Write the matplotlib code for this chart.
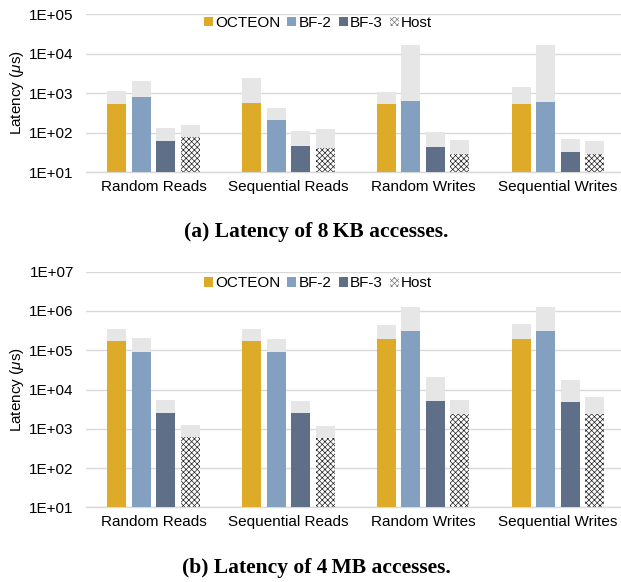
import numpy as np
import matplotlib
matplotlib.use("Agg")
import matplotlib.pyplot as plt
from matplotlib.ticker import FixedLocator, FuncFormatter, NullLocator
from matplotlib.patches import Patch

plt.rcParams['font.family'] = ['Liberation Sans', 'DejaVu Sans']
plt.rcParams['mathtext.fontset'] = 'custom'
plt.rcParams['mathtext.it'] = 'Liberation Sans:italic'
plt.rcParams['mathtext.rm'] = 'Liberation Sans'
plt.rcParams['hatch.linewidth'] = 0.5

categories = ["Random Reads", "Sequential Reads", "Random Writes", "Sequential Writes"]
series = ["OCTEON", "BF-2", "BF-3", "Host"]

# Panel (a): 8 KB accesses (average, max)
octeon_avg_a = [543, 565, 532, 543]
bf2_avg_a = [785, 214, 632, 610]
bf3_avg_a = [63, 47, 44.5, 33.3]
host_avg_a = [76.5, 41, 29, 28.5]
octeon_max_a = [1135, 2370, 1070, 1400]
bf2_max_a = [2070, 430, 16500, 16500]
bf3_max_a = [129, 111, 102, 69.5]
host_max_a = [157, 124, 65.6, 60.7]

# Panel (b): 4 MB accesses (average, max)
octeon_avg_b = [176000, 176000, 190000, 190000]
bf2_avg_b = [88500, 88500, 303000, 309000]
bf3_avg_b = [2530, 2530, 5100, 4820]
host_avg_b = [607, 583, 2380, 2380]
octeon_max_b = [355000, 355000, 449000, 467000]
bf2_max_b = [205000, 197000, 1240000, 1290000]
bf3_max_b = [5310, 5200, 21300, 17500]
host_max_b = [1250, 1200, 5520, 6450]

colors = ["#DDAB27", "#83A0C1", "#5F6F87", "white"]
gray = "#E6E6E6"
grid_c = "#D9D9D9"
FS = 11

W, H = 621, 582
fig = plt.figure(figsize=(W / 100, H / 100), dpi=100)

def px_axes(left, right, top, bottom):
    return fig.add_axes([left / W, 1 - bottom / H, (right - left) / W, (bottom - top) / H])

def draw(ax, avgs, maxs, ymax):
    x = np.arange(len(categories))
    pitch, width = 0.182, 0.141
    for i, (a, m) in enumerate(zip(avgs, maxs)):
        a = np.array(a, float); m = np.array(m, float)
        xs = x + (i - 1.5) * pitch
        if series[i] == "Host":
            ax.bar(xs, a, width, color="white", edgecolor="#222222", linewidth=0,
                   hatch="xxxxxx", zorder=3)
        else:
            ax.bar(xs, a, width, color=colors[i], linewidth=0, zorder=3)
        ax.bar(xs, m - a, width, bottom=a, color=gray, linewidth=0, zorder=3)
    ax.set_yscale("log")
    ax.set_ylim(10, ymax)
    ax.set_xlim(-0.5, 3.5)
    decades = [10 ** k for k in range(1, int(round(np.log10(ymax))) + 1)]
    ax.yaxis.set_major_locator(FixedLocator(decades))
    ax.yaxis.set_minor_locator(NullLocator())
    ax.yaxis.set_major_formatter(FuncFormatter(lambda v, p: "1E+%02d" % int(round(np.log10(v)))))
    ax.set_xticks(x)
    ax.set_xticklabels(categories)
    ax.tick_params(axis="both", length=0, labelsize=FS, colors="black")
    ax.tick_params(axis="y", pad=9.0)
    ax.tick_params(axis="x", pad=5.5)
    ax.grid(axis="y", color=grid_c, linewidth=1.0, zorder=0)
    for s in ["top", "right", "left"]:
        ax.spines[s].set_visible(False)
    ax.spines["bottom"].set_color(grid_c)
    ax.spines["bottom"].set_linewidth(1.0)
    ax.set_axisbelow(True)

ax1 = px_axes(86.35, 625.2, 14, 172.3)
draw(ax1, [octeon_avg_a, bf2_avg_a, bf3_avg_a, host_avg_a],
     [octeon_max_a, bf2_max_a, bf3_max_a, host_max_a], 1e5)
ax2 = px_axes(86.35, 625.2, 271.7, 507.3)
draw(ax2, [octeon_avg_b, bf2_avg_b, bf3_avg_b, host_avg_b],
     [octeon_max_b, bf2_max_b, bf3_max_b, host_max_b], 1e7)

handles = [Patch(facecolor=colors[0], linewidth=0),
           Patch(facecolor=colors[1], linewidth=0),
           Patch(facecolor=colors[2], linewidth=0),
           Patch(facecolor="white", edgecolor="#777777", linewidth=0, hatch="xxxxxx")]
for ly in (23, 283.3):
    fig.legend(handles, series, loc="center", bbox_to_anchor=(318 / W, 1 - ly / H),
               ncol=4, frameon=False, fontsize=FS, handlelength=0.6, handleheight=0.6,
               handletextpad=0.15, columnspacing=0.45, borderpad=0, borderaxespad=0)

for cy in (93, 389.5):
    fig.text(16.5 / W, 1 - cy / H, "Latency ($\\mu$s)", rotation=90, ha="center", va="center",
             fontsize=FS)

serif = ["Liberation Serif", "DejaVu Serif"]
fig.text(316 / W, 1 - 231.7 / H, "(a) Latency of 8\u2009KB accesses.", ha="center", va="center",
         fontsize=15.5, fontweight="bold", family=serif)
fig.text(316 / W, 1 - 568.3 / H, "(b) Latency of 4\u2009MB accesses.", ha="center", va="center",
         fontsize=15.5, fontweight="bold", family=serif)

fig.savefig("out.png", dpi=100)
